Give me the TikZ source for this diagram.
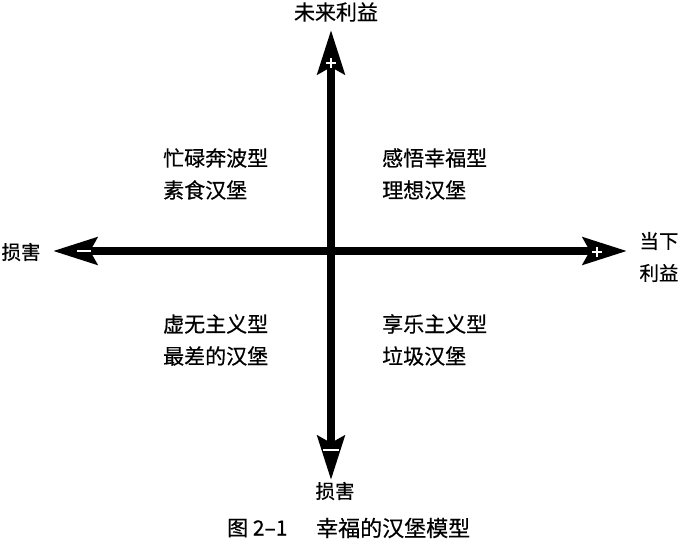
\documentclass[tikz,border=0pt]{standalone}
\usepackage{fontspec}
\setmainfont{Noto Sans CJK SC}[FakeBold=0.5]
\usetikzlibrary{arrows.meta}
\tikzset{
  axis/.style={line width=8pt, black,
    {Stealth[length=44pt,width=27pt,inset=7pt]}-{Stealth[length=44pt,width=27pt,inset=7pt]}},
  lbl/.style={inner sep=0pt, font=\fontsize{21}{21}\selectfont},
  qlbl/.style={inner sep=0pt, anchor=west, font=\fontsize{21}{21}\selectfont},
  sign/.style={white, line width=1.6pt},
}
\begin{document}
\begin{tikzpicture}[x=1pt,y=-1pt]
\useasboundingbox (0,0) rectangle (680,546);
\coordinate (T) at (331,30);
\coordinate (B) at (331,480);
\coordinate (L) at (53,251);
\coordinate (R) at (627,251);
\draw[axis] (L) -- (R);
\draw[axis] (B) -- (T);
% signs
\coordinate (tp) at (331,63);
\draw[sign] ([xshift=-5pt]tp) -- ([xshift=5pt]tp) ([yshift=-5pt]tp) -- ([yshift=5pt]tp);
\coordinate (rp) at (597,252);
\draw[sign] ([xshift=-5pt]rp) -- ([xshift=5pt]rp) ([yshift=-5pt]rp) -- ([yshift=5pt]rp);
\coordinate (lm) at (84,251);
\draw[sign] ([xshift=-7pt]lm) -- ([xshift=7pt]lm);
\coordinate (bm) at (331,450);
\draw[sign] ([xshift=-8pt]bm) -- ([xshift=8pt]bm);
% axis labels
\node[lbl] (top) at (336,12) {未来利益};
\node[lbl, font=\fontsize{19.5}{19.5}\selectfont] (left) at (21,252) {损害};
\node[lbl, font=\fontsize{19.5}{19.5}\selectfont] (r1) at (659,241) {当下};
\node[lbl, font=\fontsize{19.5}{19.5}\selectfont] (r2) at (659,273) {利益};
\node[lbl, font=\fontsize{19.5}{19.5}\selectfont] (bot) at (335,491) {损害};
% quadrants
\node[qlbl] (q1a) at (163,158) {忙碌奔波型};
\node[qlbl] (q1b) at (163,190) {素食汉堡};
\node[qlbl] (q2a) at (382,158) {感悟幸福型};
\node[qlbl] (q2b) at (382,190) {理想汉堡};
\node[qlbl] (q3a) at (163,324) {虚无主义型};
\node[qlbl] (q3b) at (163,356) {最差的汉堡};
\node[qlbl] (q4a) at (382,324) {享乐主义型};
\node[qlbl] (q4b) at (382,356) {垃圾汉堡};
% caption
\node[qlbl, font=\fontsize{21}{21}\selectfont] (cap1) at (227,528) {图 2–1};
\node[qlbl, font=\fontsize{22}{22}\selectfont] (cap2) at (316,528) {幸福的汉堡模型};
\end{tikzpicture}
\end{document}
